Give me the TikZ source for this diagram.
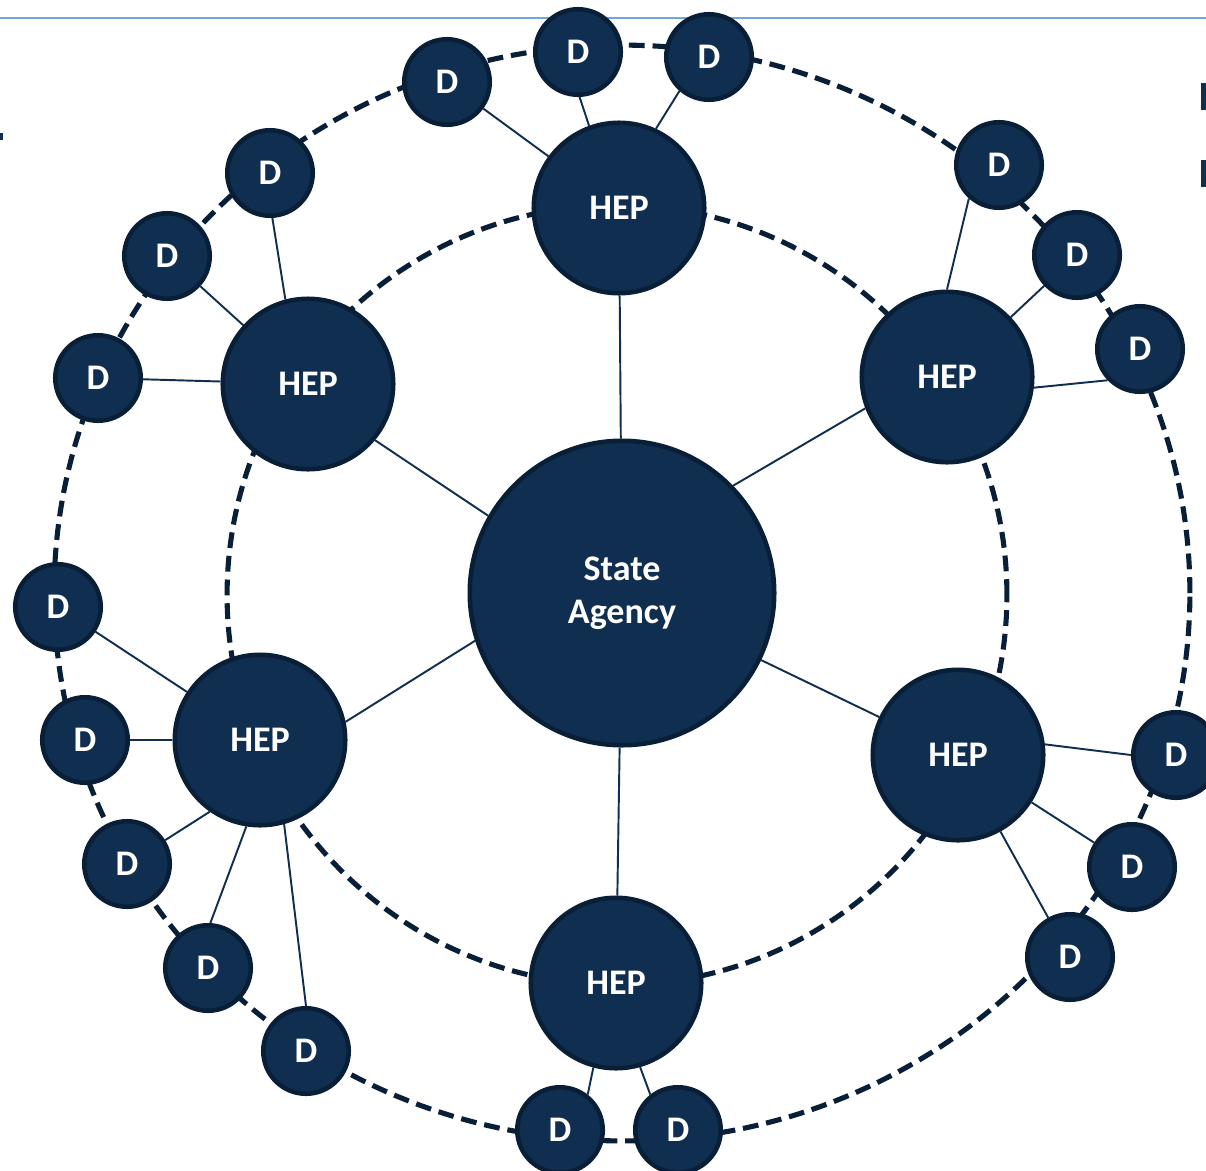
\documentclass[tikz,border=0pt]{standalone}
\usepackage{fontspec}
\setmainfont{Carlito}
\definecolor{navy}{RGB}{16,46,79}
\definecolor{navyline}{RGB}{9,31,56}
\definecolor{rulecol}{RGB}{112,166,216}

\begin{document}
\begin{tikzpicture}
  [x=0.02cm,y=-0.02cm,
   agency/.style={circle,draw=navyline,fill=navy,line width=2.6pt,text=white,align=center,
                  font=\bfseries\fontsize{20.5}{24.5}\selectfont,inner sep=0,minimum size=6.09cm},
   hep/.style={circle,draw=navyline,fill=navy,line width=2.6pt,text=white,align=center,
               font=\bfseries\fontsize{20.5}{25}\selectfont,inner sep=0,minimum size=3.41cm},
   dnode/.style={circle,draw=navyline,fill=navy,line width=2.6pt,text=white,align=center,
                 font=\bfseries\fontsize{20.5}{25}\selectfont,inner sep=0,minimum size=1.71cm},
   link/.style={draw=navy,line width=1.1pt},
   ring/.style={draw=navyline,line width=2.9pt,dash pattern=on 9pt off 4.5pt}]
  \useasboundingbox (0,0) rectangle (1206,1170);
  \draw[rulecol,line width=1.6pt] (0,18) -- (1206,18);
  \fill[navy] (0,133) rectangle (3,140);
  \fill[navy] (1201,83) rectangle (1206,110);
  \fill[navy] (1201,160) rectangle (1206,187);
  \draw[ring] (622,593) ellipse [x radius=11.36cm, y radius=10.96cm];
  \draw[ring] (617,595) circle [radius=7.8cm];
  \node[agency] (SA) at (622,593) {State\\Agency};
  \node[hep] (H1) at (619,208) {HEP};
  \node[hep] (H2) at (947,377) {HEP};
  \node[hep] (H3) at (958,755) {HEP};
  \node[hep] (H4) at (616,983) {HEP};
  \node[hep] (H5) at (260,740) {HEP};
  \node[hep] (H6) at (308,384) {HEP};
  \node[dnode] (D1) at (447,82) {D};
  \node[dnode] (D2) at (578,52) {D};
  \node[dnode] (D3) at (709,57) {D};
  \node[dnode] (D4) at (999,165) {D};
  \node[dnode] (D5) at (1077,255) {D};
  \node[dnode] (D6) at (1140,349) {D};
  \node[dnode] (D7) at (1176,755) {D};
  \node[dnode] (D8) at (1132,867) {D};
  \node[dnode] (D9) at (1070,957) {D};
  \node[dnode] (D10) at (678,1130) {D};
  \node[dnode] (D11) at (560,1130) {D};
  \node[dnode] (D12) at (306,1051) {D};
  \node[dnode] (D13) at (208,968) {D};
  \node[dnode] (D14) at (127,864) {D};
  \node[dnode] (D15) at (85,740) {D};
  \node[dnode] (D16) at (58,607) {D};
  \node[dnode] (D17) at (98,378) {D};
  \node[dnode] (D18) at (167,256) {D};
  \node[dnode] (D19) at (270,173) {D};
  \draw[link] (SA) to (H1);
  \draw[link] (SA.44) to (H2.201);
  \draw[link] (SA) to (H3);
  \draw[link] (SA) to (H4);
  \draw[link] (SA.198) to (H5.12);
  \draw[link] (SA.150) to (H6.320);
  \draw[link] (H1) to (D1);
  \draw[link] (H1.110) to (D2.-88);
  \draw[link] (H1.65) to (D3.229);
  \draw[link] (H2.90) to (D4.228);
  \draw[link] (H2) to (D5);
  \draw[link] (H2.-7) to (D6.224);
  \draw[link] (H3.7) to (D7.180);
  \draw[link] (H3) to (D8);
  \draw[link] (H3) to (D9);
  \draw[link] (H4.286) to (D10.128);
  \draw[link] (H4.255) to (D11.52);
  \draw[link] (H5.-74) to (D12.90);
  \draw[link] (H5.261) to (D13.87);
  \draw[link] (H5.235) to (D14.32);
  \draw[link] (H5) to (D15);
  \draw[link] (H5) to (D16);
  \draw[link] (H6) to (D17);
  \draw[link] (H6) to (D18);
  \draw[link] (H6.105) to (D19.273);
\end{tikzpicture}
\end{document}
